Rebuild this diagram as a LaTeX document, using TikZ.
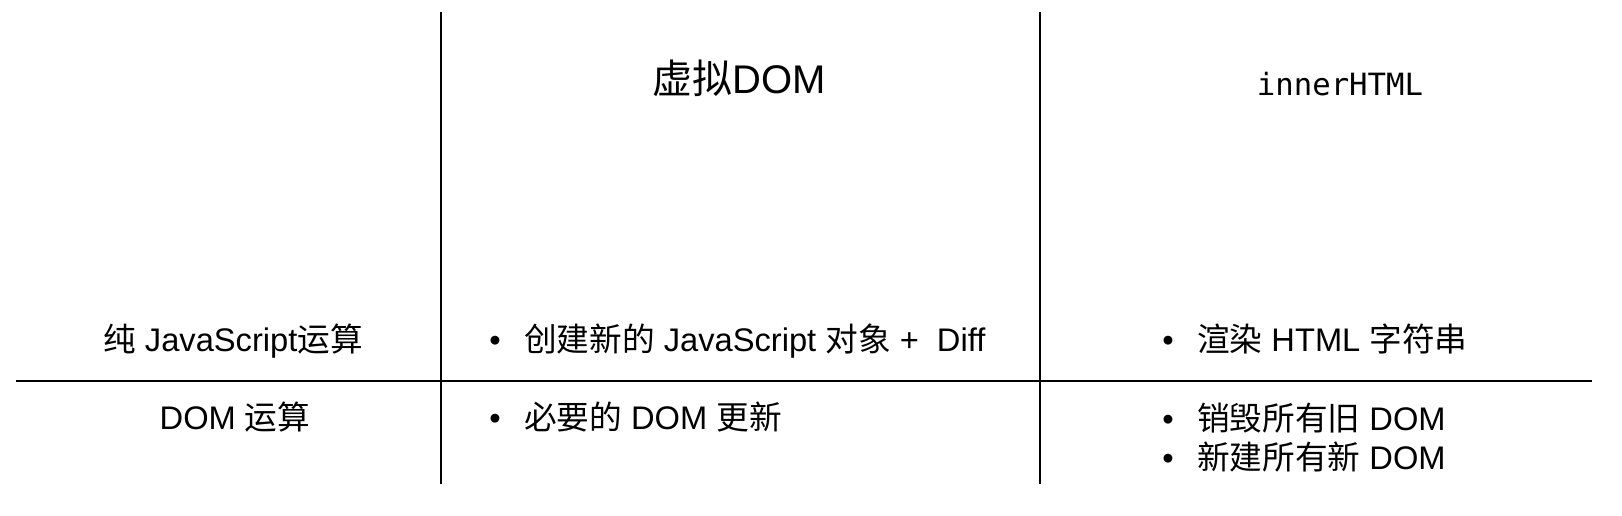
\documentclass[tikz,border=0pt]{standalone}
\usepackage{fontspec}
\setmainfont{Liberation Sans}
\setmonofont{DejaVu Sans Mono}
\newfontfamily\cjk{Noto Sans CJK SC}
\newcommand{\zh}[1]{{\cjk #1}}
\newcommand{\bul}{\textbullet\hspace{17.5pt}}
\tikzset{
    cell/.style = {
        inner sep=0, anchor=base, font=\fontsize{24.5}{29}\selectfont
    },
    item/.style = {
        cell, anchor=base west
    },
    head/.style = {
        inner sep=0, anchor=base, font=\fontsize{30}{36}\selectfont
    },
    rule/.style = {
        line width=1.5pt
    }
}
\begin{document}
\begin{tikzpicture}[x=0.75pt, y=-0.75pt]
    \useasboundingbox (0,0) rectangle (1622,516);
    % grid
    \coordinate (c1top) at (441,12);
    \coordinate (c1bot) at (441,484);
    \coordinate (c2top) at (1040,12);
    \coordinate (c2bot) at (1040,484);
    \coordinate (rowl) at (16,381);
    \coordinate (rowr) at (1592,381);
    \draw[rule] (c1top) -- (c1bot);
    \draw[rule] (c2top) -- (c2bot);
    \draw[rule] (rowl) -- (rowr);
    % headers
    \node (vdom) [head] at (739,94) {\zh{虚拟}DOM};
    \node (ihtml) [head, font=\ttfamily\fontsize{23}{28}\selectfont] at (1340,96) {innerHTML};
    % rows
    \node (jsrow) [cell] at (233,352) {\zh{纯} JavaScript\zh{运算}};
    \node (domrow) [cell] at (235,430) {DOM \zh{运算}};
    \node (vjs) [item] at (489,352) {\bul\zh{创建新的} JavaScript \zh{对象} + \ Diff};
    \node (ihjs) [item] at (1162,352) {\bul\zh{渲染} HTML \zh{字符串}};
    \node (vdomop) [item] at (489,430) {\bul\zh{必要的} DOM \zh{更新}};
    \node (ihdel) [item] at (1162,431) {\bul\zh{销毁所有旧} DOM};
    \node (ihnew) [item] at (1162,470) {\bul\zh{新建所有新} DOM};
\end{tikzpicture}
\end{document}
